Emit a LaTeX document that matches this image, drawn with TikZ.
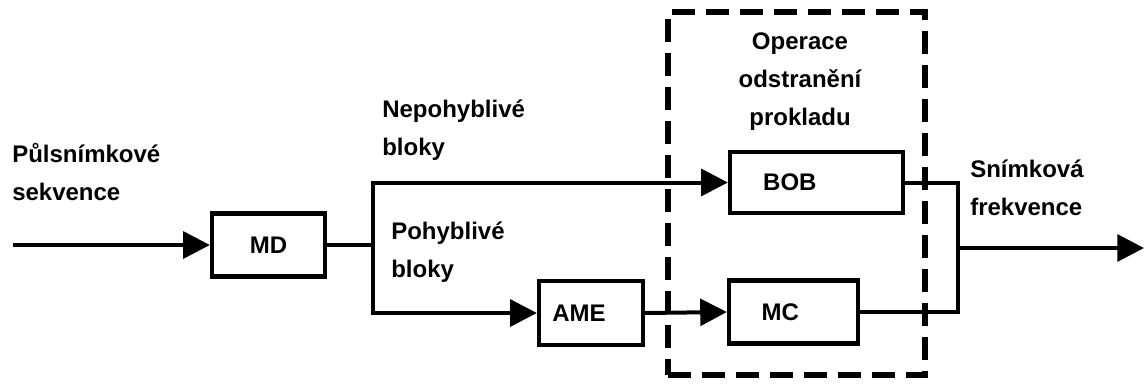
\documentclass[tikz,border=0pt]{standalone}
\usepackage{fontspec}
\setmainfont{Liberation Sans}
\usetikzlibrary{arrows.meta}
\begin{document}
\begin{tikzpicture}[x=0.75pt,y=-0.75pt,
  lbl/.style={font=\bfseries\fontsize{18}{28.5}\selectfont, inner sep=0pt, align=left},
  blk/.style={draw, line width=3.2pt, inner sep=0pt, font=\bfseries\fontsize{18}{22}\selectfont},
  conn/.style={line width=3pt},
  arr/.style={conn, -{Triangle[length=20pt,width=20pt]}},
  frame/.style={line width=3.8pt, dash pattern=on 17pt off 8.5pt}]
\useasboundingbox (0,0) rectangle (1144,383);
% blocks
\node[blk, minimum width=84.75pt, minimum height=47.25pt] (MD) at (268.5,245) {MD};
\node[blk, minimum width=129.75pt, minimum height=45.75pt] (BOB) at (816.5,182.5) {\hspace*{-40pt}BOB};
\node[blk, minimum width=78pt, minimum height=48pt] (AME) at (591,313) {\hspace*{-18pt}AME};
\node[blk, minimum width=96.75pt, minimum height=47.25pt] (MC) at (793.5,312) {\hspace*{-20pt}MC};
% dashed frame
\node[frame, draw, minimum width=192.75pt, minimum height=272.25pt, inner sep=0pt] (frm) at (796.5,193.5) {};
% coordinates
\coordinate (in) at (13,245);
\coordinate (split) at (373,245);
\coordinate (merge) at (958,248);
\coordinate (out) at (1144,248);
% connectors
\draw[arr] (in) -- (MD.west);
\draw[conn] (MD.east) -- (split);
\draw[arr] (split) |- (BOB.west);
\draw[arr] (split) |- (AME.west);
\draw[arr] (AME.east) -- (MC.west);
\draw[conn] (BOB.east) -| (merge);
\draw[conn] (MC.east) -| (merge);
\draw[arr] (merge) -- (out);
% labels
\node[lbl, anchor=west] (l1) at (12,172) {Půlsnímkové\\sekvence};
\node[lbl, anchor=west] (l2) at (382,130) {Nepohyblivé\\bloky};
\node[lbl, anchor=west] (l3) at (391,252) {Pohyblivé\\bloky};
\node[lbl, align=center] (l4) at (800,82) {Operace\\odstranění\\prokladu};
\node[lbl, anchor=west] (l5) at (970,188) {Snímková\\frekvence};
\end{tikzpicture}
\end{document}
